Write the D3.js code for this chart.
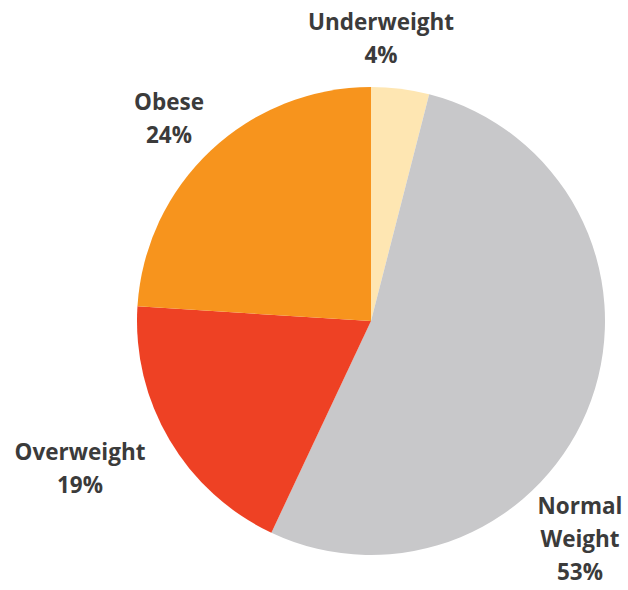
<!DOCTYPE html>
<html>
<head>
  <meta charset="utf-8">
  <script src="https://cdn.jsdelivr.net/npm/d3@7"></script>
  <style>
    body {margin:0; background:#fff;}
    text {
      font-family: "Open Sans", sans-serif;
      font-weight: bold;
      font-size: 22.5px;
      fill: #3b3b3b;
    }
  </style>
</head>
<body>
<script>
const categories = ["Underweight", "Normal Weight", "Overweight", "Obese"];
const values = [4, 53, 19, 24];
const colors = ["#fee6b2", "#c8c8ca", "#ee4124", "#f7941d"];
// label lines + anchor point for each slice
const labelLines = [["Underweight", "4%"], ["Normal", "Weight", "53%"], ["Overweight", "19%"], ["Obese", "24%"]];
const labelPos = [[381, 30], [580, 514], [80, 460], [169, 110]];

const width = 628, height = 590;
const cx = 371, cy = 321, radius = 234;

const svg = d3.select("body").append("svg")
  .attr("width", width)
  .attr("height", height);

const data = categories.map((c, i) => ({ name: c, value: values[i] }));

const pie = d3.pie().value(d => d.value).sort(null);
const arc = d3.arc().innerRadius(0).outerRadius(radius);

const g = svg.append("g").attr("transform", `translate(${cx},${cy})`);

g.selectAll("path")
  .data(pie(data))
  .join("path")
  .attr("d", arc)
  .attr("fill", (d, i) => colors[i]);

const labels = svg.selectAll("text.lbl")
  .data(labelLines)
  .join("text")
  .attr("class", "lbl")
  .attr("text-anchor", "middle")
  .attr("transform", (d, i) => `translate(${labelPos[i][0]},${labelPos[i][1]})`);

labels.selectAll("tspan")
  .data(d => d)
  .join("tspan")
  .attr("x", 0)
  .attr("y", (d, j) => j * 33)
  .text(d => d);
</script>
</body>
</html>
